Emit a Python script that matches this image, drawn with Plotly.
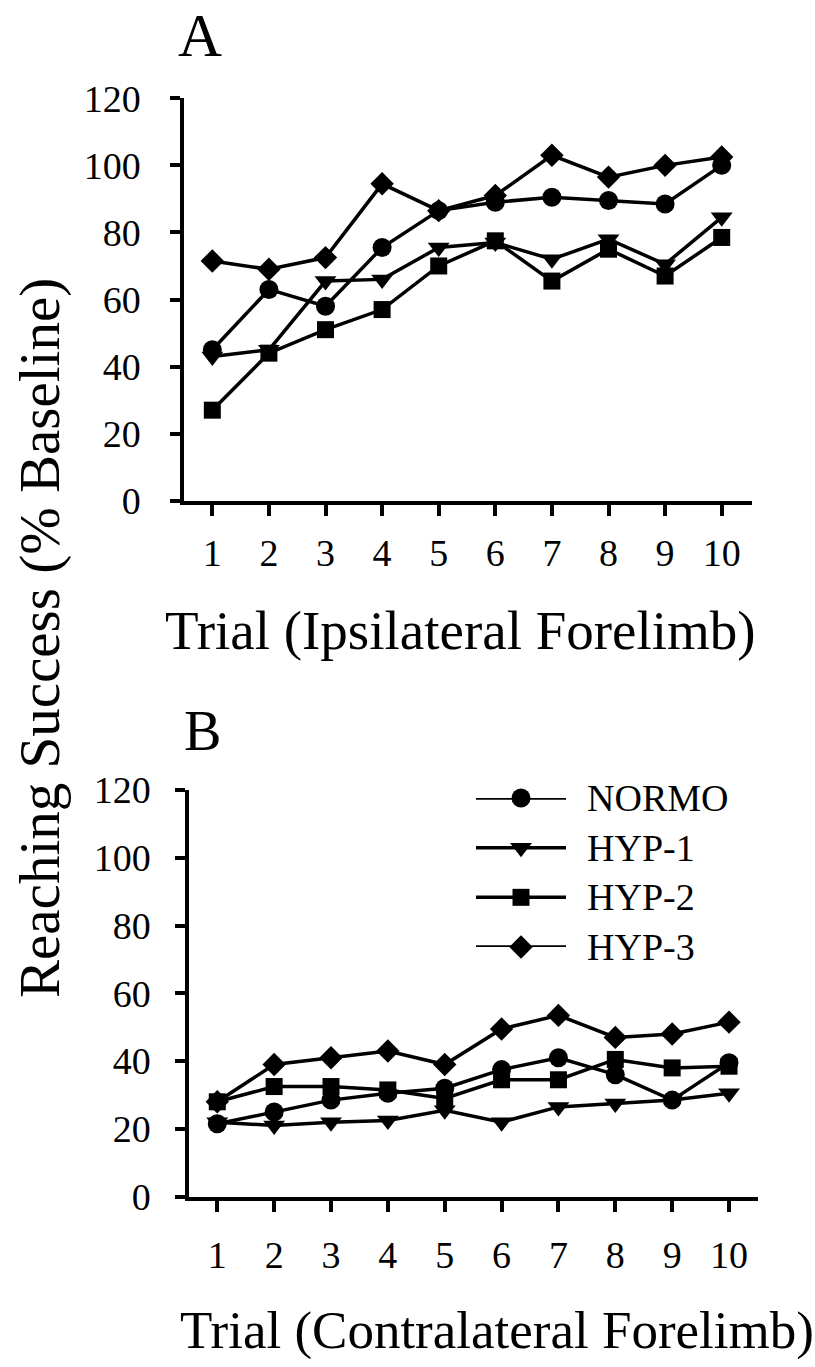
import plotly.graph_objects as go

W, H = 815, 1367
FONT = "Liberation Serif"

trials = [1, 2, 3, 4, 5, 6, 7, 8, 9, 10]
groups = ["NORMO", "HYP-1", "HYP-2", "HYP-3"]
symbols = ["circle", "triangle-down", "square", "diamond"]
msizes = [19, 19, 17, 18]

# Panel A: ipsilateral forelimb (% baseline)
a_normo = [45, 63, 58, 75.5, 86.5, 89, 90.5, 89.5, 88.5, 100]
a_hyp1 = [43, 45, 65.5, 66, 75.5, 77, 72, 78, 70.5, 84.5]
a_hyp2 = [27, 44, 51, 57, 70, 77.5, 65.5, 75, 67, 78.5]
a_hyp3 = [71.5, 69, 72.5, 94.5, 86.5, 91, 103, 96.5, 100, 102.5]

# Panel B: contralateral forelimb (% baseline)
b_normo = [21.5, 25, 28.5, 30.5, 32, 37.5, 41, 36, 28.5, 39.5]
b_hyp1 = [22, 21, 22, 22.5, 25.5, 22, 26.5, 27.5, 28.5, 30.5]
b_hyp2 = [28, 32.5, 32.5, 31.5, 29, 34.5, 34.5, 40.5, 38, 38.5]
b_hyp3 = [28, 39, 41, 43, 39, 49.5, 53.5, 47, 48, 51.5]

y_ticks = [0, 20, 40, 60, 80, 100, 120]
legend_rows = [0, 1, 2, 3]


def px(x):
    return x / W


def py(y):
    return 1 - y / H


fig = go.Figure()

panels = [
    ("x", "y", [a_normo, a_hyp1, a_hyp2, a_hyp3]),
    ("x2", "y2", [b_normo, b_hyp1, b_hyp2, b_hyp3]),
]
for xa, ya, series in panels:
    for name, sym, ms, vals in zip(groups, symbols, msizes, series):
        fig.add_trace(go.Scatter(
            x=trials, y=vals, xaxis=xa, yaxis=ya, name=name,
            mode="lines+markers", showlegend=False,
            line=dict(color="black", width=3.5),
            marker=dict(symbol=sym, size=ms, color="black"),
            cliponaxis=False,
        ))

# legend samples drawn on an auxiliary axis pair
for row, name, sym, ms in zip(legend_rows, groups, symbols, msizes):
    fig.add_trace(go.Scatter(
        x=[0, 0.5, 1], y=[row, row, row], xaxis="x3", yaxis="y3",
        mode="lines", showlegend=False,
        line=dict(color="black", width=3.5), cliponaxis=False,
    ))
    fig.add_trace(go.Scatter(
        x=[0.5], y=[row], xaxis="x3", yaxis="y3",
        mode="markers", showlegend=False,
        marker=dict(symbol=sym, size=ms, color="black"), cliponaxis=False,
    ))

axis_common = dict(
    showline=True, linecolor="black", linewidth=4, showgrid=False, zeroline=False,
    ticks="outside", tickcolor="black", tickwidth=3.5, automargin=False,
    tickfont=dict(family=FONT, size=38, color="black"),
)

LEG_X0, LEG_X1 = 476, 566
LEG_Y0, LEG_Y1 = 798, 947

fig.update_layout(
    template="none",
    width=W, height=H,
    margin=dict(l=0, r=0, t=0, b=0, pad=0, autoexpand=False),
    paper_bgcolor="white", plot_bgcolor="white",
    showlegend=False,
    xaxis=dict(domain=[px(184.3), px(751.7)], range=[0.505, 10.53], anchor="y",
               tickvals=trials, ticklen=11, ticklabelstandoff=5, **axis_common),
    yaxis=dict(domain=[py(500.7), py(98.3)], range=[0, 120], anchor="x",
               tickvals=y_ticks, ticklen=10, ticklabelstandoff=22, **axis_common),
    xaxis2=dict(domain=[px(189.3), px(758.3)], range=[0.508, 10.515], anchor="y2",
                tickvals=trials, ticklen=11, ticklabelstandoff=11, **axis_common),
    yaxis2=dict(domain=[py(1196.7), py(790)], range=[0, 120], anchor="x2",
                tickvals=y_ticks, ticklen=10, ticklabelstandoff=17, **axis_common),
    xaxis3=dict(domain=[px(LEG_X0), px(LEG_X1)], range=[0, 1], anchor="y3", visible=False),
    yaxis3=dict(domain=[py(LEG_Y1), py(LEG_Y0)], range=[3, 0], anchor="x3", visible=False),
)

annotations = [
    dict(text="A", x=px(200), y=1, yanchor="top", font=dict(size=61)),
    dict(text="B", x=px(202), y=py(731), yanchor="middle", font=dict(size=56)),
    dict(text="Trial (Ipsilateral Forelimb)", x=px(461), y=py(630), yanchor="middle",
         font=dict(size=55)),
    dict(text="Trial (Contralateral Forelimb)", x=px(497), y=py(1330), yanchor="middle",
         font=dict(size=53)),
    dict(text="Reaching Success (% Baseline)", x=px(40), y=py(638), yanchor="middle",
         textangle=-90, font=dict(size=57)),
]
for a in annotations:
    a.update(xref="paper", yref="paper", showarrow=False, xanchor="center")
    a["font"].update(family=FONT, color="black")
    fig.add_annotation(**a)

step = (LEG_Y1 - LEG_Y0) / (len(legend_rows) - 1)
for row, name in zip(legend_rows, groups):
    fig.add_annotation(text=name, xref="paper", yref="paper",
                       x=px(LEG_X1 + 19), y=py(LEG_Y0 + row * step),
                       xanchor="left", yanchor="middle", showarrow=False,
                       font=dict(family=FONT, size=38, color="black"))

fig.write_html("out.html")
